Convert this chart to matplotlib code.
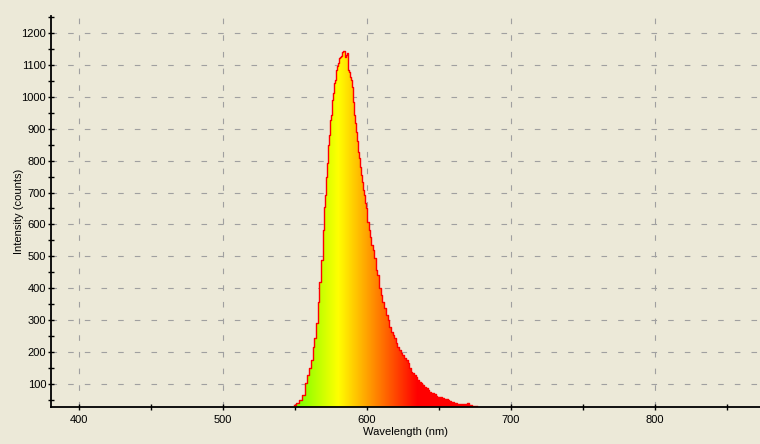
import numpy as np
import matplotlib
matplotlib.use("Agg")
import matplotlib.pyplot as plt
from matplotlib.colors import hsv_to_rgb
from matplotlib.ticker import MultipleLocator

#
# Spectrum (nm, counts)
#
wavelength = [549.3, 552.3, 553.5, 555.8, 558.1, 559.2, 560.4, 561.6, 562.7, 563.9,
              565.1, 566.2, 567.4, 568.5, 569.7, 570.3, 571.0, 572.0, 572.7, 573.1,
              573.8, 574.5, 575.2, 575.9, 576.6, 577.3, 578.0, 578.7, 579.4, 580.1,
              580.8, 581.5, 582.2, 582.8, 583.5, 584.2, 584.9, 585.6, 586.3, 586.8,
              587.3, 588.0, 588.4, 588.9, 589.6, 590.3, 590.8, 591.5, 592.2, 592.8,
              593.5, 594.2, 594.9, 595.6, 596.3, 597.0, 597.7, 598.4, 599.1, 599.8,
              600.5, 601.6, 602.6, 603.5, 604.4, 605.6, 606.7, 607.8, 609.0, 610.2,
              611.3, 612.5, 613.7, 614.8, 616.0, 617.2, 618.3, 619.4, 620.6, 621.7,
              622.9, 624.1, 625.2, 626.4, 627.6, 628.7, 629.9, 631.0, 632.2, 633.3,
              634.5, 635.6, 636.8, 638.0, 639.1, 640.3, 641.5, 642.6, 643.8, 644.9,
              646.0, 647.2, 648.4, 649.5, 650.7, 651.9, 653.0, 654.2, 655.4, 656.5,
              657.6, 658.8, 659.9, 661.1, 662.3, 663.4, 664.6, 665.8, 666.9, 668.1,
              669.2, 670.3, 671.5, 673.8, 676.2]
counts = [33, 39, 50, 65, 102, 128, 150, 175, 217, 244,
          291, 358, 421, 489, 583, 656, 692, 750, 792, 849,
          880, 927, 943, 990, 1011, 1042, 1053, 1084, 1095, 1105,
          1121, 1126, 1128, 1139, 1142, 1142, 1126, 1131, 1136, 1115,
          1084, 1079, 1063, 1053, 1032, 1006, 985, 943, 917, 891,
          860, 828, 807, 781, 755, 734, 708, 692, 666, 650,
          609, 583, 562, 536, 520, 494, 457, 442, 400, 379,
          358, 337, 316, 301, 280, 264, 254, 243, 228, 217,
          207, 196, 191, 181, 175, 165, 149, 139, 133, 128,
          123, 113, 107, 102, 97, 91, 86, 81, 76, 73,
          71, 68, 63, 60, 60, 58, 55, 52, 52, 50,
          48, 44, 44, 41, 39, 37, 37, 36, 37, 36,
          36, 39, 33, 32, 32]

bg = "#ECE9D8"
plt.rcParams["font.family"] = ["Liberation Sans", "DejaVu Sans"]
plt.rcParams["font.size"] = 8

fig = plt.figure(figsize=(7.6, 4.44), dpi=100, facecolor=bg)
ax = fig.add_axes([51/760, 37/444, 709/760, 391/444], facecolor=bg)

xmin, xmax = 380.5, 873.0
ymin, ymax = 28.0, 1253.0

# wavelength colour ramp (hue goes green -> yellow -> red)
lam = np.linspace(xmin, xmax, 1200)
hue = np.clip(60.0 - (lam - 580.0)*1.09, 0.0, 90.0)/360.0
hsv = np.stack([hue, np.ones_like(hue), np.ones_like(hue)], axis=-1)
rgb = hsv_to_rgb(hsv)[np.newaxis, :, :]

fb = ax.fill_between(wavelength, counts, 0, step="mid", facecolor="none", edgecolor="none")
im = ax.imshow(rgb, extent=[xmin, xmax, 0, ymax], aspect="auto", origin="lower",
               interpolation="bilinear", zorder=2)
im.set_clip_path(fb.get_paths()[0], transform=ax.transData)
ax.step(wavelength, counts, where="mid", color="#FF0000", lw=1.0, zorder=3)

ax.set_xlim(xmin, xmax)
ax.set_ylim(ymin, ymax)

ax.xaxis.set_major_locator(MultipleLocator(100))
ax.xaxis.set_minor_locator(MultipleLocator(50))
ax.yaxis.set_major_locator(MultipleLocator(100))
ax.yaxis.set_minor_locator(MultipleLocator(50))
ax.set_yticks(np.arange(100, 1201, 100))

ax.grid(True, which="major", color="#A0A0A0", lw=0.8, dashes=(5, 10), zorder=1)
ax.set_axisbelow(True)

for s in ["top", "right"]:
    ax.spines[s].set_visible(False)
for s in ["left", "bottom"]:
    ax.spines[s].set_linewidth(1.3)
    ax.spines[s].set_zorder(4)

ax.tick_params(which="major", direction="inout", length=5, width=1, pad=1, labelsize=8)
ax.tick_params(which="minor", direction="inout", length=5, width=1)
ax.tick_params(axis="x", which="major", pad=3)

ax.set_xlabel("Wavelength (nm)", fontsize=8)
ax.set_ylabel("Intensity (counts)", fontsize=8)
ax.xaxis.set_label_coords(0.5, -0.052)
ax.yaxis.set_label_coords(-0.038, 0.5)

fig.savefig("out.png", dpi=100, facecolor=bg)
